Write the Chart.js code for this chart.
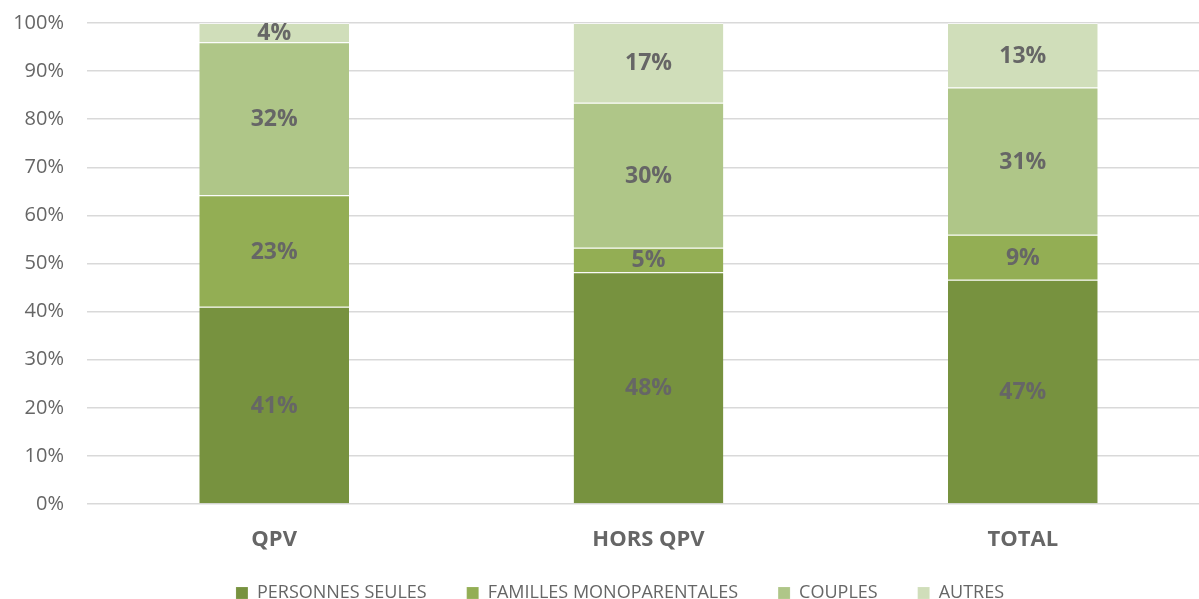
<!DOCTYPE html>
<html>
  <head>
    <meta charset="UTF-8">
    <title>Composition des ménages</title>
    <script src="https://cdn.jsdelivr.net/npm/chart.js@4"></script>
    <style>
      html, body { margin: 0; padding: 0; overflow: hidden; background: #fff; }
      #wrap { width: 1210px; height: 632px; }
    </style>
  </head>
  <body>
    <div id='wrap'><canvas id='chart'></canvas></div>

    <script>
      const categories = ['QPV', 'HORS QPV', 'TOTAL'];
      const personnesSeules = [41.0, 48.2, 46.6];
      const famillesMono = [23.2, 5.1, 9.4];
      const couples = [31.8, 30.1, 30.6];
      const autres = [4.0, 16.6, 13.4];

      const colors = ['#77923f', '#93ae54', '#afc688', '#d0deba'];
      const textGrey = '#666666';
      const FONT = "'Open Sans', sans-serif";

      // draws the rounded percentage in the middle of each segment
      const segmentLabels = {
        id: 'segmentLabels',
        afterDatasetsDraw(chart) {
          const ctx = chart.ctx;
          ctx.save();
          ctx.font = `bold 23px ${FONT}`;
          ctx.fillStyle = textGrey;
          ctx.textAlign = 'center';
          ctx.textBaseline = 'middle';
          chart.data.datasets.forEach((ds, i) => {
            chart.getDatasetMeta(i).data.forEach((bar, j) => {
              const p = bar.getProps(['x', 'y', 'base'], true);
              ctx.fillText(Math.round(ds.data[j]) + '%', p.x, (p.y + p.base) / 2 + 1);
            });
          });
          ctx.restore();
        }
      };

      // move the legend a bit right and up, like in the original
      const legendShift = {
        id: 'legendShift',
        afterLayout(chart) {
          const lg = chart.legend;
          if (!lg) return;
          lg.left += 30;
          lg.top -= 20;
          lg.bottom -= 20;
        }
      };

      function dataset(label, data, color) {
        return {
          label: label,
          data: data,
          backgroundColor: color,
          borderColor: 'rgba(255,255,255,0.55)',
          borderWidth: { top: 1, left: 0, right: 0, bottom: 0 },
          borderSkipped: false,
          categoryPercentage: 1,
          barPercentage: 0.4
        };
      }

      new Chart(document.getElementById('chart'), {
        type: 'bar',
        data: {
          labels: categories,
          datasets: [
            dataset('PERSONNES SEULES', personnesSeules, colors[0]),
            dataset('FAMILLES MONOPARENTALES', famillesMono, colors[1]),
            dataset('COUPLES', couples, colors[2]),
            dataset('AUTRES', autres, colors[3])
          ]
        },
        options: {
          responsive: true,
          maintainAspectRatio: false,
          animation: false,
          layout: { padding: { left: 0, top: 23, right: 0, bottom: 0 } },
          scales: {
            x: {
              stacked: true,
              grid: { display: false, drawTicks: false },
              border: { display: false },
              ticks: { color: textGrey, font: { family: FONT, size: 22, weight: 'bold' }, padding: 23 },
              afterFit: (s) => { s.height = 60; }
            },
            y: {
              stacked: true,
              min: 0,
              max: 100,
              grid: { color: '#d9d9d9', lineWidth: 1.5, drawTicks: false },
              border: { display: false },
              ticks: {
                stepSize: 10,
                color: textGrey,
                font: { family: FONT, size: 20 },
                padding: 23,
                callback: (v) => v + '%'
              },
              afterFit: (s) => {
                s.width = 87;
                s.paddingTop = 0;
                s.paddingBottom = 0;
              }
            }
          },
          plugins: {
            legend: {
              position: 'bottom',
              labels: {
                boxWidth: 12,
                boxHeight: 12,
                padding: 40,
                color: textGrey,
                font: { family: FONT, size: 18 }
              }
            },
            tooltip: { enabled: false }
          }
        },
        plugins: [segmentLabels, legendShift]
      });
    </script>
  </body>
</html>
